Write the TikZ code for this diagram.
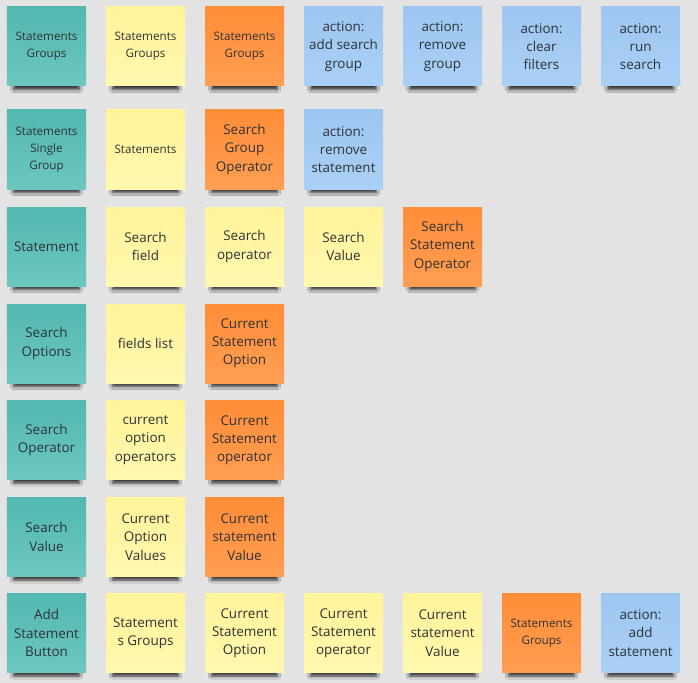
\documentclass[tikz,border=0pt]{standalone}
\usepackage{fontspec}
\setmainfont{Open Sans}
\usepackage{tikz}
\usetikzlibrary{positioning, shadows.blur}

\definecolor{board}{HTML}{E3E3E3}
\definecolor{ink}{HTML}{2F3236}
\definecolor{tealA}{HTML}{52B8B0}
\definecolor{tealB}{HTML}{6CC7C0}
\definecolor{yellA}{HTML}{FFF49A}
\definecolor{yellB}{HTML}{FFF8AE}
\definecolor{orngA}{HTML}{FF8D38}
\definecolor{orngB}{HTML}{FF9E52}
\definecolor{blueA}{HTML}{9CC6F1}
\definecolor{blueB}{HTML}{AAD0F6}

\newcommand{\notefont}{\fontsize{13.5}{18.3}\selectfont}
\newcommand{\tinynote}{\fontsize{11.7}{16.8}\selectfont}

\begin{document}
\begin{tikzpicture}[x=1bp, y=1bp, node distance=99bp,
                    note/.style={rectangle, minimum size=79bp, inner sep=0pt, align=center, text=ink, font=\notefont,
                                 blur shadow={shadow xshift=0bp, shadow yshift=-12bp, shadow scale=0.84,
                                              shadow blur radius=3.5bp, shadow opacity=75}},
                    tealnote/.style={note, top color=tealA, bottom color=tealB},
                    yellnote/.style={note, top color=yellA, bottom color=yellB},
                    orngnote/.style={note, top color=orngA, bottom color=orngB},
                    bluenote/.style={note, top color=blueA, bottom color=blueB},
                    small/.style={font=\tinynote}]

    \fill [board] (0,0) rectangle (698,-683);
    \useasboundingbox (0,0) rectangle (698,-683);

    % first row: the groups and the actions on them
    \node [tealnote, small] (groups-t) at (46.5,-46.5)   {Statements\\Groups};
    \node [yellnote, small] (groups-y) [right of=groups-t] {Statements\\Groups};
    \node [orngnote, small] (groups-o) [right of=groups-y] {Statements\\Groups};
    \node [bluenote]        (add-grp)  [right of=groups-o] {action:\\add search\\group};
    \node [bluenote]        (rm-grp)   [right of=add-grp]  {action:\\remove\\group};
    \node [bluenote]        (clear)    [right of=rm-grp]   {action:\\clear\\filters};
    \node [bluenote]        (run)      [right of=clear]    {action:\\run\\search};

    % single group
    \node [tealnote, small] (single)   at (46.5,-149.5)   {Statements\\Single\\Group};
    \node [yellnote, small] (stmts)    [right of=single]  {Statements};
    \node [orngnote]        (grp-op)   [right of=stmts]   {Search\\Group\\Operator};
    \node [bluenote]        (rm-stmt)  [right of=grp-op]  {action:\\remove\\statement};

    % statement
    \node [tealnote]        (stmt)     at (46.5,-246.5)   {Statement};
    \node [yellnote]        (s-field)  [right of=stmt]    {Search\\field};
    \node [yellnote]        (s-oper)   [right of=s-field] {Search\\operator};
    \node [yellnote]        (s-value)  [right of=s-oper]  {Search\\Value};
    \node [orngnote]        (stmt-op)  [right of=s-value] {Search\\Statement\\Operator};

    \node [tealnote]        (options)  at (46.5,-343.5)   {Search\\Options};
    \node [yellnote]        (fields)   [right of=options] {fields list};
    \node [orngnote]        (cur-opt)  [right of=fields]  {Current\\Statement\\Option};

    \node [tealnote]        (operator) at (46.5,-440)     {Search\\Operator};
    \node [yellnote]        (opt-ops)  [right of=operator] {current\\option\\operators};
    \node [orngnote]        (cur-op)   [right of=opt-ops] {Current\\Statement\\operator};

    \node [tealnote]        (value)    at (46.5,-537)     {Search\\Value};
    \node [yellnote]        (opt-vals) [right of=value]   {Current\\Option\\Values};
    \node [orngnote]        (cur-val)  [right of=opt-vals] {Current\\statement\\Value};

    % add statement button
    \node [tealnote]        (button)   at (46.5,-633)     {Add\\Statement\\Button};
    \node [yellnote]        (b-groups) [right of=button]  {Statement\\s Groups};
    \node [yellnote]        (b-opt)    [right of=b-groups] {Current\\Statement\\Option};
    \node [yellnote]        (b-op)     [right of=b-opt]   {Current\\Statement\\operator};
    \node [yellnote]        (b-val)    [right of=b-op]    {Current\\statement\\Value};
    \node [orngnote, small] (b-grp-o)  [right of=b-val]   {Statements\\Groups};
    \node [bluenote]        (add-stmt) [right of=b-grp-o] {action:\\add\\statement};

\end{tikzpicture}
\end{document}
